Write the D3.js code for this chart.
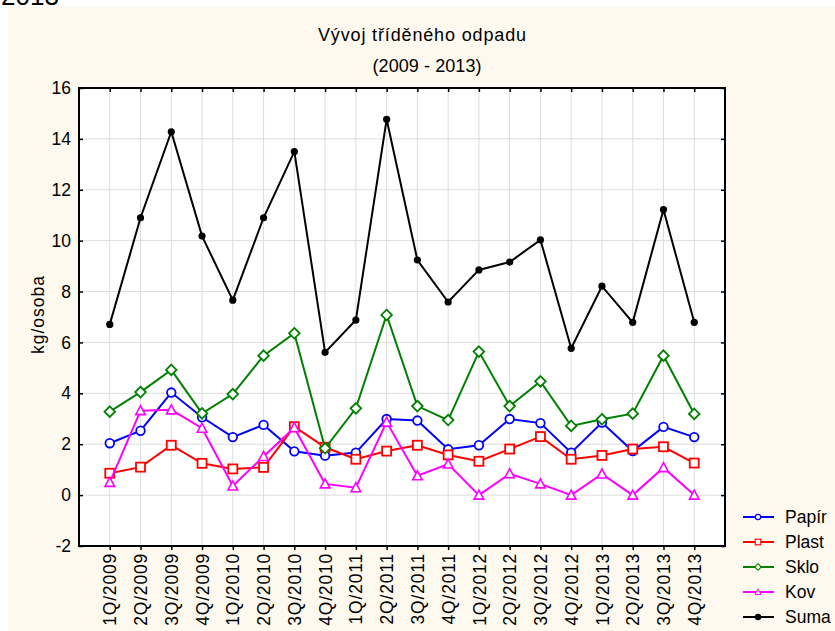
<!DOCTYPE html>
<html><head><meta charset="utf-8">
<script src="https://cdn.jsdelivr.net/npm/d3@7"></script>
<style>
html,body{margin:0;padding:0;background:#fff;}
text{font-family:"Liberation Sans",Arial,sans-serif;}
</style></head>
<body>
<svg id="chart" width="835" height="631"></svg>
<script>
const categories = ["1Q/2009","2Q/2009","3Q/2009","4Q/2009","1Q/2010","2Q/2010","3Q/2010","4Q/2010",
  "1Q/2011","2Q/2011","3Q/2011","4Q/2011","1Q/2012","2Q/2012","3Q/2012","4Q/2012",
  "1Q/2013","2Q/2013","3Q/2013","4Q/2013"];
const papir = [2.04,2.53,4.03,3.06,2.28,2.76,1.72,1.55,1.67,2.99,2.93,1.80,1.96,2.99,2.83,1.67,2.85,1.73,2.68,2.28];
const plast = [0.86,1.10,1.96,1.25,1.03,1.09,2.69,1.88,1.41,1.73,1.96,1.58,1.33,1.81,2.30,1.41,1.56,1.81,1.90,1.26];
const sklo  = [3.28,4.05,4.92,3.21,3.97,5.48,6.36,1.84,3.41,7.08,3.50,2.95,5.64,3.50,4.47,2.72,2.98,3.20,5.48,3.19];
const kov   = [0.50,3.32,3.35,2.63,0.36,1.52,2.65,0.44,0.29,2.87,0.76,1.22,0.00,0.84,0.44,0.00,0.83,0.00,1.08,0.00];
const suma  = [6.71,10.90,14.28,10.18,7.66,10.90,13.50,5.61,6.88,14.77,9.24,7.59,8.85,9.16,10.03,5.77,8.21,6.79,11.22,6.79];
const yTicks = [-2,0,2,4,6,8,10,12,14,16];
const seriesNames = ["Papír","Plast","Sklo","Kov","Suma"];
const titleText = "Vývoj tříděného odpadu";
const subtitleText = "(2009 - 2013)";
const yLabel = "kg/osoba";

const series = [
  {name: seriesNames[0], values: papir, color: "#0000ff", marker: "circle"},
  {name: seriesNames[1], values: plast, color: "#ff0000", marker: "square"},
  {name: seriesNames[2], values: sklo,  color: "#008000", marker: "diamond"},
  {name: seriesNames[3], values: kov,   color: "#ff00ff", marker: "triangle"},
  {name: seriesNames[4], values: suma,  color: "#000000", marker: "dot"}
];

const svg = d3.select("#chart");
// cropped text from top of page (as in the reference)
svg.append("text").attr("x", 1).attr("y", 5).attr("font-size", 26).attr("fill", "#000").text("2013");
svg.append("rect").attr("x", 8).attr("y", 7).attr("width", 827).attr("height", 624).attr("fill", "#fdf9ee");

const L = 79, R = 725, T = 88, B = 546;
const x = d3.scaleLinear().domain([-1, categories.length]).range([L, R]);
const y = d3.scaleLinear().domain([-2, 16]).range([B, T]);

svg.append("rect").attr("x", L).attr("y", T).attr("width", R - L).attr("height", B - T).attr("fill", "#fff");

// grid
const g = svg.append("g");
g.selectAll("line.vg").data(categories).join("line")
  .attr("x1", (d, i) => x(i)).attr("x2", (d, i) => x(i)).attr("y1", T).attr("y2", B)
  .attr("stroke", "#dcdcdc").attr("stroke-width", 1);
g.selectAll("line.hg").data(yTicks).join("line")
  .attr("y1", d => y(d)).attr("y2", d => y(d)).attr("x1", L).attr("x2", R)
  .attr("stroke", "#dcdcdc").attr("stroke-width", 1);

// axes
const idx = d3.range(categories.length);
const xAxis = d3.axisBottom(x).tickValues(idx).tickFormat(i => categories[i]).tickSize(4).tickSizeOuter(0);
const xa = svg.append("g").attr("transform", `translate(0,${B})`).call(xAxis);
xa.select(".domain").remove();
xa.selectAll(".tick line").attr("stroke", "#000").attr("stroke-width", 1.5);
xa.selectAll(".tick text").attr("font-size", 17.5).attr("fill", "#000")
  .attr("font-family", "Liberation Sans, Arial, sans-serif")
  .attr("letter-spacing", 0.8)
  .attr("transform", "rotate(-90)").attr("text-anchor", "end")
  .attr("x", -7).attr("y", 0).attr("dy", "0.35em");

const xTop = svg.append("g").attr("transform", `translate(0,${T})`)
  .call(d3.axisBottom(x).tickValues(idx).tickFormat("").tickSize(4).tickSizeOuter(0));
xTop.select(".domain").remove();
xTop.selectAll(".tick line").attr("stroke", "#000").attr("stroke-width", 1.5);

const yAxis = d3.axisLeft(y).tickValues(yTicks).tickFormat(d => String(d))
  .tickSize(-4).tickPadding(8).tickSizeOuter(0);
const ya = svg.append("g").attr("transform", `translate(${L},0)`).call(yAxis);
ya.select(".domain").remove();
ya.selectAll(".tick line").attr("stroke", "#000").attr("stroke-width", 1.5);
ya.selectAll(".tick text").attr("font-size", 17.5).attr("fill", "#000")
  .attr("font-family", "Liberation Sans, Arial, sans-serif");

const yR = svg.append("g").attr("transform", `translate(${R},0)`)
  .call(d3.axisRight(y).tickValues(yTicks).tickFormat("").tickSize(-4).tickSizeOuter(0));
yR.select(".domain").remove();
yR.selectAll(".tick line").attr("stroke", "#000").attr("stroke-width", 1.5);

// frame
svg.append("rect").attr("x", L).attr("y", T).attr("width", R - L).attr("height", B - T)
  .attr("fill", "none").attr("stroke", "#000").attr("stroke-width", 2);

// titles
svg.append("text").attr("x", 422).attr("y", 41).attr("text-anchor", "middle").attr("font-size", 18)
  .attr("textLength", 208).attr("lengthAdjust", "spacing").text(titleText);
svg.append("text").attr("x", 427).attr("y", 72).attr("text-anchor", "middle").attr("font-size", 18)
  .attr("textLength", 109).attr("lengthAdjust", "spacing").text(subtitleText);
svg.append("text").attr("transform", `translate(44,${315}) rotate(-90)`)
  .attr("text-anchor", "middle").attr("font-size", 17.5)
  .attr("textLength", 78).attr("lengthAdjust", "spacing").text(yLabel);

function drawMarker(sel, type, color, cx, cy) {
  if (type === "circle") {
    sel.append("circle").attr("cx", cx).attr("cy", cy).attr("r", 4.3)
      .attr("fill", "#fff").attr("stroke", color).attr("stroke-width", 1.8);
  } else if (type === "square") {
    sel.append("rect").attr("x", cx - 4.5).attr("y", cy - 4.5).attr("width", 9).attr("height", 9)
      .attr("fill", "#fff").attr("stroke", color).attr("stroke-width", 1.8);
  } else if (type === "diamond") {
    sel.append("path").attr("d", `M${cx},${cy - 5.3}L${cx + 5.3},${cy}L${cx},${cy + 5.3}L${cx - 5.3},${cy}Z`)
      .attr("fill", "#fff").attr("stroke", color).attr("stroke-width", 1.8);
  } else if (type === "triangle") {
    sel.append("path").attr("d", `M${cx},${cy - 5}L${cx + 4.8},${cy + 4}L${cx - 4.8},${cy + 4}Z`)
      .attr("fill", "#fff").attr("stroke", color).attr("stroke-width", 1.6);
  } else {
    sel.append("circle").attr("cx", cx).attr("cy", cy).attr("r", 3.6).attr("fill", color);
  }
}

const line = d3.line().x((d, i) => x(i)).y(d => y(d));
const plotG = svg.append("g");
series.forEach(s => {
  const sg = plotG.append("g");
  sg.append("path").datum(s.values).attr("d", line).attr("fill", "none")
    .attr("stroke", s.color).attr("stroke-width", 2);
  s.values.forEach((v, i) => drawMarker(sg, s.marker, s.color, x(i), y(v)));
});

// legend
const lg = svg.append("g");
series.forEach((s, i) => {
  const ly = 517 + i * 25;
  lg.append("line").attr("x1", 743).attr("x2", 774).attr("y1", ly).attr("y2", ly)
    .attr("stroke", s.color).attr("stroke-width", 2);
  if (s.marker === "dot") {
    lg.append("circle").attr("cx", 758).attr("cy", ly).attr("r", 3.2).attr("fill", s.color);
  } else {
    const m = lg.append("g").attr("transform", `translate(758,${ly}) scale(0.62) translate(-758,${-ly})`);
    drawMarker(m, s.marker, s.color, 758, ly);
  }
  lg.append("text").attr("x", 785).attr("y", ly).attr("dy", "0.36em").attr("font-size", 17.5).text(s.name);
});
</script>
</body></html>
